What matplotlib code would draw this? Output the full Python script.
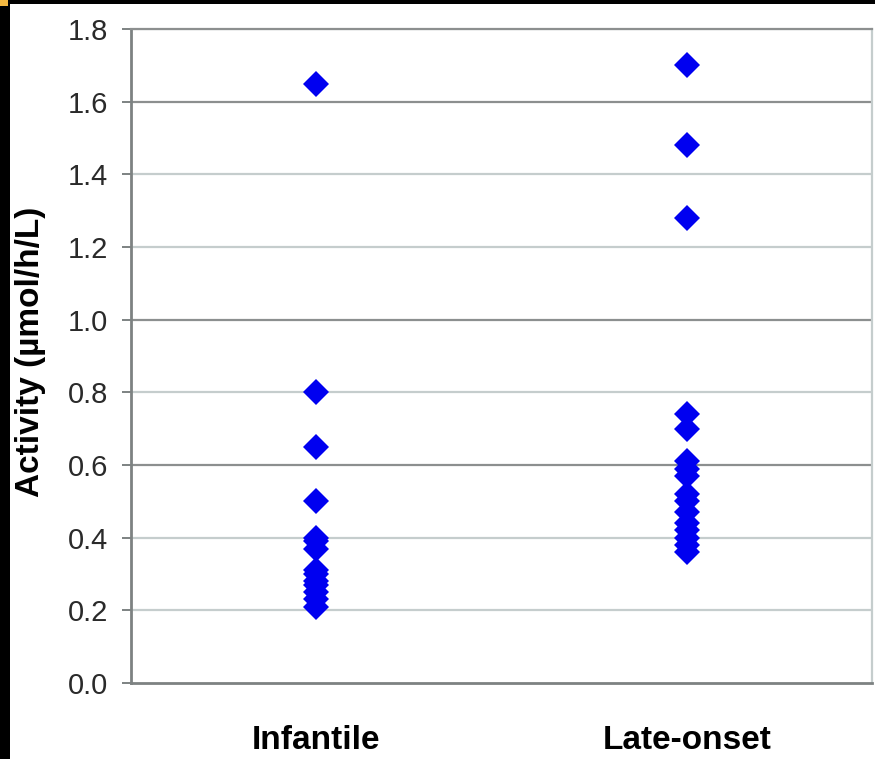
import numpy as np
import matplotlib.pyplot as plt
from matplotlib.patches import Rectangle

groups = ['Infantile', 'Late-onset']
infantile = [1.65, 0.80, 0.65, 0.50, 0.40, 0.39, 0.37, 0.31, 0.30,
             0.28, 0.27, 0.25, 0.23, 0.21]
late_onset = [1.70, 1.48, 1.28, 0.74, 0.70, 0.61, 0.59, 0.57, 0.52,
              0.50, 0.47, 0.44, 0.42, 0.40, 0.38, 0.36]
yticks = [0.0, 0.2, 0.4, 0.6, 0.8, 1.0, 1.2, 1.4, 1.6, 1.8]

plt.rcParams['font.family'] = ['Liberation Sans', 'DejaVu Sans']

W, H = 875, 759
fig = plt.figure(figsize=(W / 100, H / 100), dpi=100, facecolor='black')
# white page inside the black frame
fig.add_artist(Rectangle((10 / W, 0), 1, 1 - 4 / H, transform=fig.transFigure,
                         facecolor='white', edgecolor='none', zorder=-10))
fig.add_artist(Rectangle((0, 1 - 6 / H), 8 / W, 6 / H, transform=fig.transFigure,
                         facecolor='#f5b942', edgecolor='none', zorder=-10))

ax = fig.add_axes([131 / W, 1 - 683 / H, (872 - 131) / W, (683 - 29) / H])
ax.set_zorder(1)
ax.set_facecolor('white')

# grid: some lines print darker than others in the original
dark = {0.6, 1.0, 1.6}
for v in yticks[1:]:
    if v in dark:
        ax.axhline(v, color='#8c8f8f', lw=1.6, zorder=1)
    else:
        ax.axhline(v, color='#c5cdcd', lw=1.6, zorder=1)

for i, vals in enumerate([infantile, late_onset]):
    ax.plot(np.full(len(vals), i + 1), vals, linestyle='none', marker='D',
            markersize=13.5, color='#0000f0', markeredgewidth=0, zorder=3)

ax.set_xlim(0.5, 2.5)
ax.set_ylim(0, 1.8)
ax.set_yticks(yticks)
ax.set_yticklabels([f'{v:.1f}' for v in yticks], fontsize=21, color='#2a2a2a')
ax.set_xticks([1, 2])
ax.set_xticklabels(groups, fontsize=24, fontweight='bold', color='black')
ax.tick_params(axis='x', length=0, pad=30)
ax.tick_params(axis='y', length=6.5, width=1.4, color='#7d8282', pad=10)

ax.spines['left'].set_color('#7d8282')
ax.spines['left'].set_linewidth(2)
ax.spines['bottom'].set_color('#7d8282')
ax.spines['bottom'].set_linewidth(2)
ax.spines['top'].set_color('#8c8f8f')
ax.spines['top'].set_linewidth(1.6)
ax.spines['right'].set_color('#c5cdcd')
ax.spines['right'].set_linewidth(1.6)

fig.text(31 / W, 1 - 352 / H, 'Activity (\u00b5mol/h/L)', rotation=90,
         ha='center', va='center', fontsize=24, fontweight='bold', zorder=2)

fig.savefig('out.png', dpi=100, facecolor=fig.get_facecolor())
